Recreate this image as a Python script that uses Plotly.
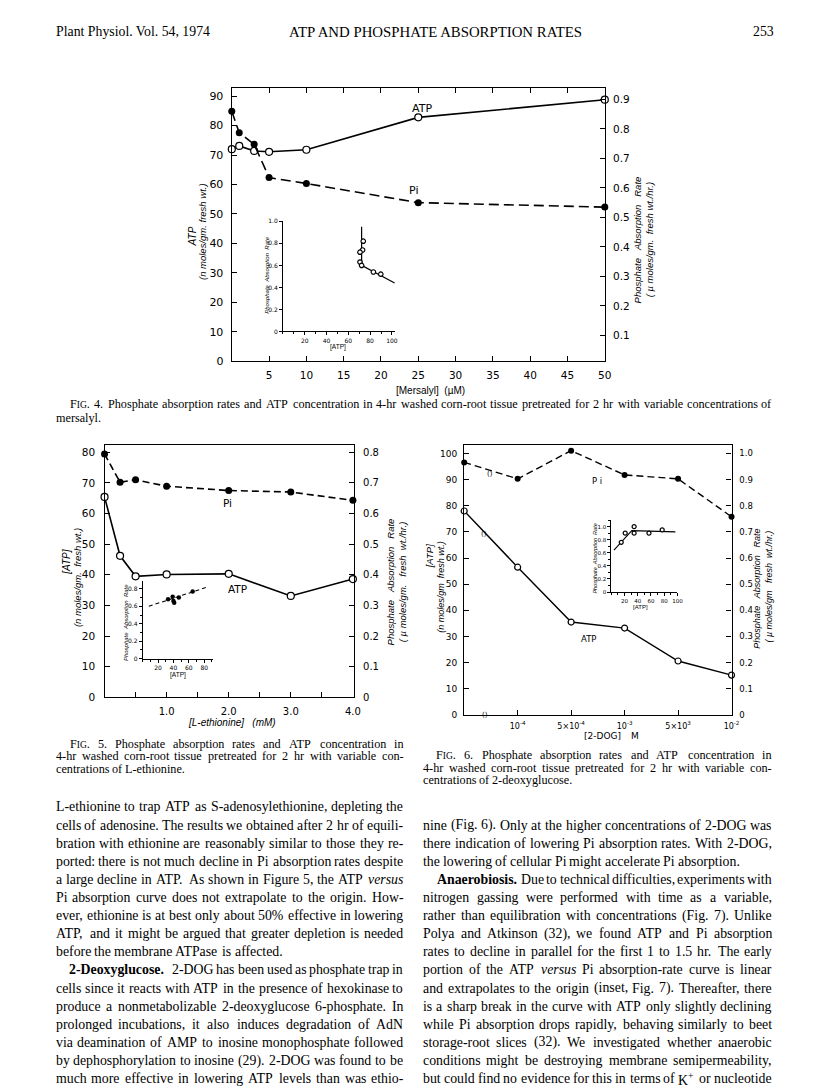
import re
import plotly.graph_objects as go

W, H = 816, 1089
SANS = "DejaVu Sans"
NARROW = "Liberation Sans"
SERIF = "Liberation Serif"

# ---------------- data ----------------
# Fig. 4 : mersalyl
mersalyl_uM = [0, 1, 3, 5, 10, 25, 50]
fig4_atp = [72.0, 73.1, 71.4, 71.1, 71.8, 82.8, 88.8]
fig4_pi_rate = [0.860, 0.787, 0.748, 0.635, 0.615, 0.550, 0.535]
fig4_inset_atp = [73.7, 73.1, 70.7, 70.7, 72.2, 83.0, 89.8]
fig4_inset_rate = [0.82, 0.74, 0.72, 0.63, 0.60, 0.54, 0.52]
fig4_inset_fit_atp = [72.2, 72.2, 102.5]
fig4_inset_fit_rate = [0.95, 0.60, 0.44]

# Fig. 5 : L-ethionine
ethionine_mM = [0, 0.25, 0.5, 1.0, 2.0, 3.0, 4.0]
fig5_atp = [65.4, 46.2, 39.5, 40.1, 40.3, 33.1, 38.6]
fig5_pi_rate = [0.794, 0.702, 0.710, 0.689, 0.675, 0.670, 0.643]
fig5_inset_atp = [33, 39, 40, 41, 47, 65]
fig5_inset_rate = [0.68, 0.71, 0.66, 0.64, 0.70, 0.77]
fig5_inset_fit_atp = [8, 84]
fig5_inset_fit_rate = [0.60, 0.82]

# Fig. 6 : 2-deoxyglucose (control + five concentrations, evenly spaced)
dog_position = [0, 1, 2, 3, 4, 5]
dog_tick_position = [1, 2, 3, 4, 5]
dog_tick_labels = ["10<sup>-4</sup>", "5×10<sup>-4</sup>", "10<sup>-3</sup>",
                   "5×10<sup>3</sup>", "10<sup>-2</sup>"]
fig6_atp = [78.0, 56.5, 35.5, 33.2, 20.6, 15.2]
fig6_pi_rate = [0.966, 0.903, 1.011, 0.918, 0.903, 0.758]
fig6_inset_atp = [15, 21, 34.5, 34.5, 57, 77]
fig6_inset_rate = [0.76, 0.90, 1.00, 0.90, 0.90, 0.95]
fig6_inset_fit_atp = [4, 31, 97]
fig6_inset_fit_rate = [0.64, 0.94, 0.92]

# ---------------- text ----------------
header_left = "Plant Physiol. Vol. 54, 1974"
header_mid = "ATP AND PHOSPHATE ABSORPTION RATES"
header_right = "253"

cap4 = [("FIG. 4. Phosphate absorption rates and ATP concentration in 4-hr washed corn-root tissue pretreated for 2 hr with variable concentrations of", True, True),
        ("mersalyl.", False, False)]
cap5 = [("FIG. 5. Phosphate absorption rates and ATP concentration in", True, True),
        ("4-hr washed corn-root tissue pretreated for 2 hr with variable con-", True, False),
        ("centrations of L-ethionine.", False, False)]
cap6 = [("FIG. 6. Phosphate absorption rates and ATP concentration in", True, True),
        ("4-hr washed corn-root tissue pretreated for 2 hr with variable con-", True, False),
        ("centrations of 2-deoxyglucose.", False, False)]

body_left = [
    ("L-ethionine to trap ATP as S-adenosylethionine, depleting the", True, False),
    ("cells of adenosine. The results we obtained after 2 hr of equili-", True, False),
    ("bration with ethionine are reasonably similar to those they re-", True, False),
    ("ported: there is not much decline in Pi absorption rates despite", True, False),
    ("a large decline in ATP. As shown in Figure 5, the ATP *versus", True, False),
    ("Pi absorption curve does not extrapolate to the origin. How-", True, False),
    ("ever, ethionine is at best only about 50% effective in lowering", True, False),
    ("ATP, and it might be argued that greater depletion is needed", True, False),
    ("before the membrane ATPase is affected.", False, False),
    ("**2-Deoxyglucose. 2-DOG has been used as phosphate trap in", True, True),
    ("cells since it reacts with ATP in the presence of hexokinase to", True, False),
    ("produce a nonmetabolizable 2-deoxyglucose 6-phosphate. In", True, False),
    ("prolonged incubations, it also induces degradation of AdN", True, False),
    ("via deamination of AMP to inosine monophosphate followed", True, False),
    ("by dephosphorylation to inosine (29). 2-DOG was found to be", True, False),
    ("much more effective in lowering ATP levels than was ethio-", True, False),
]
body_right = [
    ("nine (Fig. 6). Only at the higher concentrations of 2-DOG was", True, False),
    ("there indication of lowering Pi absorption rates. With 2-DOG,", True, False),
    ("the lowering of cellular Pi might accelerate Pi absorption.", False, False),
    ("**Anaerobiosis. Due to technical difficulties, experiments with", True, True),
    ("nitrogen gassing were performed with time as a variable,", True, False),
    ("rather than equilibration with concentrations (Fig. 7). Unlike", True, False),
    ("Polya and Atkinson (32), we found ATP and Pi absorption", True, False),
    ("rates to decline in parallel for the first 1 to 1.5 hr. The early", True, False),
    ("portion of the ATP *versus Pi absorption-rate curve is linear", True, False),
    ("and extrapolates to the origin (inset, Fig. 7). Thereafter, there", True, False),
    ("is a sharp break in the curve with ATP only slightly declining", True, False),
    ("while Pi absorption drops rapidly, behaving similarly to beet", True, False),
    ("storage-root slices (32). We investigated whether anaerobic", True, False),
    ("conditions might be destroying membrane semipermeability,", True, False),
    ("but could find no evidence for this in terms of K+ or nucleotide", True, False),
]

# ---------------- helpers ----------------
def fx(x):
    return x / W


def fy(y):
    return 1 - y / H


annotations = []


def add_text(text, x, y, size, family=SANS, angle=0, xanchor="center",
             yanchor="middle"):
    font = dict(family=family, size=size, color="black")
    annotations.append(dict(text=text, x=fx(x), y=fy(y), xref="paper", yref="paper",
                            showarrow=False, font=font, textangle=angle,
                            xanchor=xanchor, yanchor=yanchor, borderpad=0))


_TW = {' ': 250, '!': 333, '"': 408, '#': 500, '$': 500, '%': 833, '&': 778, "'": 333,
       '(': 333, ')': 333, '*': 500, '+': 564, ',': 250, '-': 333, '.': 250, '/': 278,
       ':': 278, ';': 278, '<': 564, '=': 564, '>': 564, '?': 444, '@': 921, '[': 333,
       ']': 333}
for _d in "0123456789":
    _TW[_d] = 500
_TW.update(zip("ABCDEFGHIJKLMNOPQRSTUVWXYZ",
               [722, 667, 667, 722, 611, 556, 722, 722, 333, 389, 722, 611, 889, 722, 722,
                556, 722, 667, 556, 611, 722, 722, 944, 722, 722, 611]))
_TW.update(zip("abcdefghijklmnopqrstuvwxyz",
               [444, 500, 444, 500, 444, 333, 500, 500, 278, 278, 500, 278, 778, 500, 500,
                500, 500, 333, 389, 278, 500, 500, 722, 500, 500, 444]))


def em(plain, bold=False):
    w = sum(_TW.get(c, 500) for c in plain) / 1000.0
    return w * (1.07 if bold else 1.0)


def tokens(line, size):
    """split a line into (html, em_width) words; '**' marks a bold first word,
    '*' marks an italic word."""
    out = []
    words = line.split(" ")
    bold_first = words[0].startswith("**")
    for i, w in enumerate(words):
        bold = bold_first and i == 0
        ital = (not bold) and w.startswith("*")
        plain = w.strip("*")
        if plain == "FIG.":
            small = round(0.78 * size, 1)
            out.append(("F<span style='font-size:%spx'>IG</span>." % small,
                        (556 + 0.78 * (333 + 722) + 250) / 1000.0))
            continue
        html = plain.replace("K+", "K<sup>+</sup>")
        if bold:
            html = "<b>" + html + "</b>"
        if ital:
            html = "<i>" + html + "</i>"
        out.append((html, em(plain, bold)))
    return out


def fit_size(blocks, min_gap=0.2):
    best = 99
    for lines, x0, x1, indent in blocks:
        for txt, just, ind in lines:
            if not just:
                continue
            tk = tokens(txt, 10)
            avail = x1 - x0 - (indent if ind else 0)
            need = sum(t[1] for t in tk) + (len(tk) - 1) * min_gap
            best = min(best, avail / need)
    return best


def set_lines(lines, x0, x1, ys, size, indent):
    for (txt, just, ind), y in zip(lines, ys):
        left = x0 + (indent if ind else 0)
        tk = tokens(txt, size)
        widths = [t[1] * size for t in tk]
        if just and len(tk) > 1:
            gap = (x1 - left - sum(widths)) / (len(tk) - 1)
        else:
            gap = 0.25 * size
        x = left
        for (html, _), wd in zip(tk, widths):
            annotations.append(dict(text=html, x=fx(x), y=fy(y), xref="paper", yref="paper",
                                    showarrow=False, xanchor="left", yanchor="middle",
                                    borderpad=0,
                                    font=dict(family=SERIF, size=size, color="black")))
            x += wd + gap


# ---------------- figure ----------------
fig = go.Figure()


def open_marker(size):
    return dict(symbol="circle", size=size, color="white", line=dict(color="black", width=1.2))


def filled_marker(size):
    return dict(symbol="circle", size=size, color="black", line=dict(color="black", width=0))


# Fig 4 main
fig.add_trace(go.Scatter(x=mersalyl_uM, y=fig4_atp, xaxis="x", yaxis="y", mode="lines+markers",
                         line=dict(color="black", width=1.6), marker=open_marker(7),
                         cliponaxis=False, showlegend=False))
fig.add_trace(go.Scatter(x=mersalyl_uM, y=fig4_pi_rate, xaxis="x", yaxis="y2", mode="lines+markers",
                         line=dict(color="black", width=1.6, dash="10px,5px"), marker=filled_marker(7),
                         cliponaxis=False, showlegend=False))
# Fig 4 inset
fig.add_trace(go.Scatter(x=fig4_inset_fit_atp, y=fig4_inset_fit_rate, xaxis="x2", yaxis="y3",
                         mode="lines", line=dict(color="black", width=1.2), showlegend=False,
                         cliponaxis=False))
fig.add_trace(go.Scatter(x=fig4_inset_atp, y=fig4_inset_rate, xaxis="x2", yaxis="y3",
                         mode="markers", marker=open_marker(4.5), showlegend=False, cliponaxis=False))

# Fig 5 main
fig.add_trace(go.Scatter(x=ethionine_mM, y=fig5_atp, xaxis="x3", yaxis="y4", mode="lines+markers",
                         line=dict(color="black", width=1.6), marker=open_marker(7),
                         cliponaxis=False, showlegend=False))
fig.add_trace(go.Scatter(x=ethionine_mM, y=fig5_pi_rate, xaxis="x3", yaxis="y5", mode="lines+markers",
                         line=dict(color="black", width=1.6, dash="7px,4px"), marker=filled_marker(7),
                         cliponaxis=False, showlegend=False))
# Fig 5 inset
fig.add_trace(go.Scatter(x=fig5_inset_fit_atp, y=fig5_inset_fit_rate, xaxis="x4", yaxis="y6",
                         mode="lines", line=dict(color="black", width=1.1, dash="4px,3px"),
                         showlegend=False))
fig.add_trace(go.Scatter(x=fig5_inset_atp, y=fig5_inset_rate, xaxis="x4", yaxis="y6",
                         mode="markers", marker=filled_marker(4.5), showlegend=False))

# Fig 6 main
fig.add_trace(go.Scatter(x=dog_position, y=fig6_atp, xaxis="x5", yaxis="y7", mode="lines+markers",
                         line=dict(color="black", width=1.4), marker=open_marker(6),
                         cliponaxis=False, showlegend=False))
fig.add_trace(go.Scatter(x=dog_position, y=fig6_pi_rate, xaxis="x5", yaxis="y8", mode="lines+markers",
                         line=dict(color="black", width=1.4, dash="7px,4px"), marker=filled_marker(6),
                         cliponaxis=False, showlegend=False))
# Fig 6 inset
fig.add_trace(go.Scatter(x=fig6_inset_fit_atp, y=fig6_inset_fit_rate, xaxis="x6", yaxis="y9",
                         mode="lines", line=dict(color="black", width=1.1), showlegend=False,
                         cliponaxis=False))
fig.add_trace(go.Scatter(x=fig6_inset_atp, y=fig6_inset_rate, xaxis="x6", yaxis="y9",
                         mode="markers", marker=open_marker(4), showlegend=False, cliponaxis=False))


def xdom(a, b):
    return [fx(a), fx(b)]


def ydom(top, bottom):
    return [fy(bottom), fy(top)]


def base_axis(**kw):
    d = dict(showgrid=False, zeroline=False, showline=True, linecolor="black", linewidth=1.4,
             ticks="inside", ticklen=5, tickwidth=1.1, tickcolor="black", fixedrange=True,
             tickfont=dict(family=SANS, size=11, color="black"))
    d.update(kw)
    return d


def inset_axis(size=6, **kw):
    d = dict(showgrid=False, zeroline=False, showline=True, linecolor="black", linewidth=1.0,
             ticks="outside", ticklen=3, tickwidth=0.8, tickcolor="black", fixedrange=True,
             tickfont=dict(family=SANS, size=size, color="black"), ticklabelstandoff=0)
    d.update(kw)
    return d


def minor(step):
    return dict(dtick=step, tick0=0, ticks="outside", ticklen=2, tickcolor="black")


layout_axes = {}
# Fig 4
layout_axes["xaxis"] = base_axis(domain=xdom(226, 602.7), range=[0, 50], anchor="y",
                                 tickvals=[5, 10, 15, 20, 25, 30, 35, 40, 45, 50],
                                 mirror="ticks", ticklabelstandoff=4,
                                 tickfont=dict(family=SANS, size=10.5, color="black"))
layout_axes["yaxis"] = base_axis(domain=ydom(77, 352.7), range=[0, 92.7], anchor="x",
                                 tickvals=list(range(0, 91, 10)), ticklabelstandoff=5)
layout_axes["yaxis2"] = base_axis(overlaying="y", side="right", anchor="x",
                                  range=[0.0128, 0.938],
                                  tickvals=[0.1, 0.2, 0.3, 0.4, 0.5, 0.6, 0.7, 0.8, 0.9],
                                  ticktext=["0.1", "0.2", "0.3", "0.4", "0.5", "0.6", "0.7", "0.8", "0.9"],
                                  ticklabelstandoff=5,
                                  tickfont=dict(family=SANS, size=10.5, color="black"))
layout_axes["xaxis2"] = inset_axis(domain=xdom(277.7, 391), range=[0, 103], anchor="y3",
                                   tickvals=[20, 40, 60, 80, 100], minor=minor(10))
layout_axes["yaxis3"] = inset_axis(domain=ydom(211.5, 322.7), range=[0, 1.0], anchor="x2",
                                   tickvals=[0, 0.2, 0.4, 0.6, 0.8, 1.0],
                                   ticktext=["0", "0.2", "0.4", "0.6", "0.8", "1.0"])
# Fig 5
layout_axes["xaxis3"] = base_axis(domain=xdom(97.5, 349.3), range=[0, 4.016], anchor="y4",
                                  tickvals=[1, 2, 3, 4], ticktext=["1.0", "2.0", "3.0", "4.0"],
                                  minor=dict(dtick=0.5, tick0=0, ticks="inside", ticklen=5,
                                             tickcolor="black"),
                                  mirror=True, ticklabelstandoff=4,
                                  tickfont=dict(family=SANS, size=10, color="black"))
layout_axes["yaxis4"] = base_axis(domain=ydom(437.3, 692.3), range=[0, 82.4], anchor="x3",
                                  tickvals=list(range(0, 81, 10)), ticklabelstandoff=6,
                                  tickfont=dict(family=SANS, size=10.5, color="black"))
layout_axes["yaxis5"] = base_axis(overlaying="y4", side="right", anchor="x3", range=[0, 0.824],
                                  tickvals=[0, 0.1, 0.2, 0.3, 0.4, 0.5, 0.6, 0.7, 0.8],
                                  ticktext=["0", "0.1", "0.2", "0.3", "0.4", "0.5", "0.6", "0.7", "0.8"],
                                  ticklabelstandoff=6,
                                  tickfont=dict(family=SANS, size=10, color="black"))
layout_axes["xaxis4"] = inset_axis(domain=xdom(136, 206.7), range=[0, 91], anchor="y6",
                                   tickvals=[20, 40, 60, 80], minor=minor(10))
layout_axes["yaxis6"] = inset_axis(domain=ydom(575, 653.3), range=[0, 0.887], anchor="x4",
                                   tickvals=[0, 0.2, 0.4, 0.6, 0.8],
                                   ticktext=["0", "0.2", "0.4", "0.6", "0.8"], minor=minor(0.1))
# Fig 6
layout_axes["xaxis5"] = base_axis(domain=xdom(460.7, 730.7), range=[0, 5.0], anchor="y7",
                                  tickvals=dog_tick_position, ticktext=dog_tick_labels,
                                  mirror=True, ticklabelstandoff=3, linewidth=1.2,
                                  tickfont=dict(family=SANS, size=8, color="black"))
layout_axes["yaxis7"] = base_axis(domain=ydom(437.3, 710), range=[0, 103.3], anchor="x5",
                                  tickvals=list(range(0, 101, 10)), ticklabelstandoff=4,
                                  linewidth=1.2,
                                  tickfont=dict(family=SANS, size=9, color="black"))
layout_axes["yaxis8"] = base_axis(overlaying="y7", side="right", anchor="x5", range=[0, 1.033],
                                  tickvals=[0, 0.1, 0.2, 0.3, 0.4, 0.5, 0.6, 0.7, 0.8, 0.9, 1.0],
                                  ticktext=["0", "0.1", "0.2", "0.3", "0.4", "0.5", "0.6", "0.7",
                                            "0.8", "0.9", "1.0"],
                                  ticklabelstandoff=5, linewidth=1.2,
                                  tickfont=dict(family=SANS, size=8.5, color="black"))
layout_axes["xaxis6"] = inset_axis(size=5.5, domain=xdom(609.3, 676), range=[0, 100], anchor="y9",
                                   tickvals=[20, 40, 60, 80, 100], minor=minor(10))
layout_axes["yaxis9"] = inset_axis(size=5.5, domain=ydom(513.3, 586), range=[0, 1.1], anchor="x6",
                                   tickvals=[0, 0.2, 0.4, 0.6, 0.8, 1.0],
                                   ticktext=["0", "0.2", "0.4", "0.6", "0.8", "1.0"],
                                   minor=minor(0.1))

# ---------------- chart labels ----------------
NB = "\u00a0"
# Fig 4
add_text("ATP", 418, 97.3, 11)
add_text("Pi", 409.3, 180.7, 11)
add_text("<i>ATP</i>", 186.5, 227, 10, family=NARROW, angle=-90)
add_text("<i>(n moles/gm. fresh wt.)</i>", 196.5, 221.7, 9.5, family=NARROW, angle=-90)
add_text("<i>Phosphate" + NB * 3 + "Absorption" + NB * 3 + "Rate</i>", 636, 230, 9.5,
         family=NARROW, angle=-90)
add_text("<i>(" + NB + "\u00b5" + NB + "moles/gm." + NB * 2 + "fresh" + NB + "wt./hr.)</i>",
         648, 230, 9.5, family=NARROW, angle=-90)
add_text("[Mersalyl]" + NB * 2 + "(\u00b5M)", 426.7, 382.5, 10, family=NARROW)
add_text("<i>Phosphate" + NB * 2 + "Absorption" + NB * 2 + "Rate</i>", 262, 266, 6,
         family=NARROW, angle=-90)
add_text("[ATP]", 333.3, 338.5, 6.5, family=NARROW)

# Fig 5
add_text("Pi", 221.7, 495.7, 10.5)
add_text("ATP", 231.7, 583.3, 10.5)
add_text("<i>[ATP]</i>", 59, 556, 10, family=NARROW, angle=-90)
add_text("<i>(n moles/gm." + NB * 2 + "fresh" + NB + "wt.)</i>", 69.5, 571, 9.5,
         family=NARROW, angle=-90)
add_text("<i>Phosphate" + NB * 3 + "Absorption" + NB * 3 + "Rate</i>", 386, 576, 9.5,
         family=NARROW, angle=-90)
add_text("<i>(" + NB + "\u00b5" + NB + "moles/gm." + NB * 3 + "fresh" + NB * 2 + "wt./hr.)</i>",
         398, 576, 9.5, family=NARROW, angle=-90)
add_text("<i>[L-ethionine]" + NB * 3 + "(mM)</i>", 226.7, 718, 10, family=NARROW)
add_text("<i>Phosphate" + NB * 2 + "Absorption" + NB * 2 + "Rate</i>", 118.5, 617, 6,
         family=NARROW, angle=-90)
add_text("[ATP]", 171.7, 669.5, 6.5, family=NARROW)

# Fig 6
add_text("P" + NB + "i", 595, 473.3, 8.5)
add_text("ATP", 586.7, 633.3, 8.5)
add_text("<i>[ATP]</i>", 426, 550, 9.5, family=NARROW, angle=-90)
add_text("<i>(n moles/gm" + NB * 2 + "fresh" + NB + "wt.)</i>", 437, 581, 9, family=NARROW,
         angle=-90)
add_text("<i>Phosphate" + NB * 3 + "Absorption" + NB * 3 + "Rate</i>", 757, 583, 9,
         family=NARROW, angle=-90)
add_text("<i>(" + NB + "\u00b5" + NB + "moles/gm" + NB * 3 + "fresh" + NB * 2 + "wt./hr.)</i>",
         769, 580, 9, family=NARROW, angle=-90)
add_text("[2-DOG]", 600, 731.7, 9, family=SANS)
add_text("M", 633, 731.7, 9, family=SANS)
add_text("<i>Phosphate" + NB * 2 + "Absorption" + NB * 2 + "Rate</i>", 593, 552, 5.5,
         family=NARROW, angle=-90)
add_text("[ATP]", 638.3, 601, 6, family=NARROW)
# axis-break marks
for bx, by in [(481.7, 710), (480.5, 527), (487, 467)]:
    add_text("()", bx, by, 7, family=SANS)

# ---------------- page text ----------------
add_text(header_left, 47, 20, 13.8, family=SERIF, xanchor="left")
add_text(header_mid, 432, 20, 14.8, family=SERIF)
add_text(header_right, 775, 20, 13.8, family=SERIF, xanchor="right")

cap_size = min(12.2, fit_size([(cap4, 47, 770, 15), (cap5, 47, 398, 15), (cap6, 418, 770, 13)],
                              min_gap=0.22))
set_lines(cap4, 47, 770, [396, 410], cap_size, 15)
set_lines(cap5, 47, 398, [739, 752, 765], cap_size, 15)
set_lines(cap6, 418, 770, [751, 763.5, 776], cap_size, 13)

body_size = min(14.5, fit_size([(body_left, 47, 398, 14), (body_right, 418, 770, 14)],
                               min_gap=0.2))
set_lines(body_left, 47, 398, [803 + 18.3 * i for i in range(len(body_left))], body_size, 14)
set_lines(body_right, 418, 770, [821.3 + 18.3 * i for i in range(len(body_right))], body_size, 14)

fig.update_layout(width=W, height=H, margin=dict(l=0, r=0, t=0, b=0),
                  paper_bgcolor="white", plot_bgcolor="rgba(0,0,0,0)",
                  showlegend=False, annotations=annotations, **layout_axes)

fig.write_html("out.html")
